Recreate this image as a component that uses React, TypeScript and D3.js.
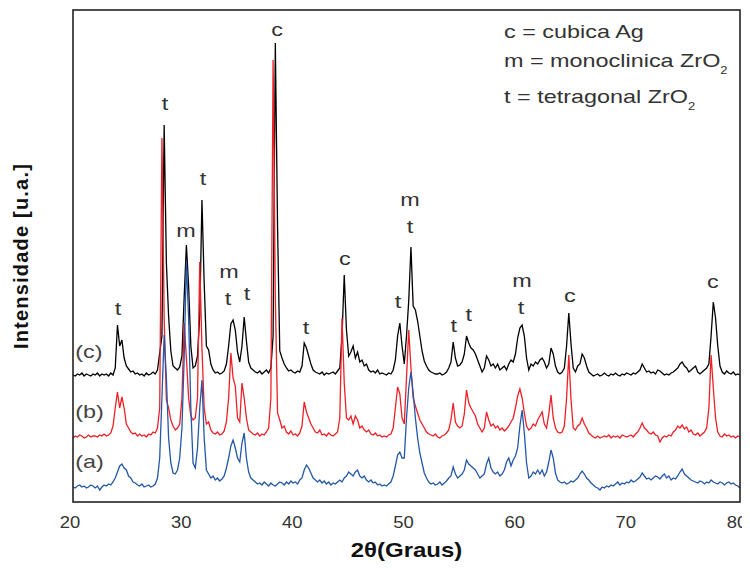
import React from "react";
import * as d3 from "d3";

// 2θ sampling grid (degrees)
const thetaStart = 20;
const thetaStep = 0.2;

// (a) – blue, intensity above its own baseline (u.a.)
const intensityA = [
  1, 0, 2, 3, 1, 2, 0, 1, 3, 2,
  0, 2, -2, 1, 3, 2, 4, 3, 6, 10,
  16, 22, 24, 20, 18, 12, 10, 6, 5, 3,
  2, 4, 1, 2, 3, 1, 2, 4, 10, 30,
  90, 153, 110, 50, 25, 15, 14, 18, 30, 60,
  130, 226, 170, 80, 25, 20, 40, 80, 108, 50,
  18, 14, 10, 12, 8, 10, 7, 9, 12, 20,
  30, 42, 48, 40, 30, 26, 45, 55, 30, 16,
  10, 8, 6, 4, 5, 3, 6, 4, 2, 5,
  3, 2, 4, 6, 5, 3, 6, 4, 7, 5,
  6, 4, 8, 10, 18, 23, 20, 15, 10, 8,
  6, 8, 5, 7, 4, 6, 3, 5, 4, 6,
  8, 6, 10, 12, 16, 14, 12, 16, 18, 12,
  10, 12, 8, 6, 8, 5, 6, 3, 4, 2,
  3, 2, 4, 6, 12, 22, 33, 36, 30, 30,
  70, 100, 116, 95, 70, 50, 35, 25, 15, 10,
  6, 4, 5, 3, 4, 6, 3, 5, 7, 10,
  12, 21, 14, 10, 12, 14, 18, 28, 24, 22,
  20, 18, 14, 10, 12, 14, 24, 30, 20, 16,
  14, 16, 12, 14, 18, 26, 30, 22, 28, 32,
  40, 62, 78, 55, 25, 10, 12, 16, 14, 18,
  14, 18, 12, 16, 26, 38, 30, 15, 8, 6,
  5, 6, 4, 5, 7, 6, 8, 10, 14, 17,
  14, 10, 8, 5, 3, 1, 0, -2, 1, 0,
  2, 1, 3, 2, 4, 6, 3, 5, 4, 6,
  5, 8, 6, 7, 9, 11, 15, 12, 9, 10,
  8, 10, 12, 11, 9, 12, 14, 10, 12, 8,
  10, 9, 12, 16, 19, 14, 12, 10, 8, 7,
  6, 5, 7, 6, 4, 6, 5, 8, 6, 5,
  4, 6, 5, 3, 5, 6, 4, 5, 3, 2,
  0,
];

// (b) – red
const intensityB = [
  0, 2, 1, 3, 2, 0, 1, 3, 1, 2,
  2, 1, 3, 2, 4, 2, 3, 5, 12, 30,
  46, 30, 41, 30, 14, 10, 6, 4, 5, 2,
  4, 2, 3, 1, 4, 3, 6, 5, 10, 30,
  300, 120, 38, 30, 18, 12, 8, 10, 14, 40,
  115, 80, 40, 22, 18, 20, 40, 176, 90, 30,
  14, 16, 8, 5, 4, 6, 3, 4, 7, 16,
  40, 85, 60, 52, 20, 16, 55, 40, 20, 8,
  6, 4, 3, 5, 2, 4, 3, 6, 10, 40,
  378, 140, 25, 18, 10, 12, 6, 4, 7, 3,
  4, 2, 5, 12, 36, 26, 20, 14, 10, 6,
  5, 8, 3, 4, 2, 5, 3, 2, 4, 6,
  20, 120, 55, 20, 18, 22, 14, 22, 18, 10,
  12, 8, 6, 8, 4, 3, 5, 2, 3, 1,
  2, 1, 3, 4, 10, 30, 51, 44, 20, 14,
  60, 108, 70, 40, 32, 25, 18, 14, 10, 6,
  4, 3, 2, 4, 1, 0, 2, 3, 5, 8,
  18, 35, 16, 12, 10, 12, 24, 48, 35, 30,
  26, 22, 14, 10, 6, 10, 26, 18, 12, 14,
  10, 12, 8, 10, 7, 9, 12, 16, 20, 30,
  42, 49, 40, 25, 12, 8, 10, 14, 12, 18,
  22, 26, 14, 10, 24, 43, 20, 10, 6, 5,
  6, 12, 40, 83, 38, 10, 8, 12, 14, 20,
  14, 10, 5, 3, 1, 0, 2, 0, 1, 2,
  1, 3, 0, 2, 1, 2, 0, 3, 2, 1,
  2, 3, 1, 4, 6, 10, 15, 10, 8, 5,
  4, 6, 3, 2, -4, 0, 2, 1, 3, 2,
  6, 8, 12, 10, 13, 9, 11, 6, 8, 4,
  3, 5, 2, 4, 6, 10, 30, 83, 50, 20,
  6, 2, 1, 4, 2, 3, 1, 2, 0, 2,
  1,
];

// (c) – black
const intensityC = [
  1, 0, 2, 1, 3, 0, 2, 1, 0, 2,
  1, 3, 0, 2, 1, 2, 0, 3, 1, 8,
  51, 30, 36, 18, 10, 7, 4, 5, 2, 3,
  1, 2, 0, 3, 1, 2, 4, 2, 6, 23,
  40, 251, 113, 60, 25, 10, 8, 6, 9, 20,
  79, 131, 90, 30, 8, 10, 20, 60, 176, 93,
  30, 26, 12, 6, 3, 4, 2, 3, 5, 12,
  30, 52, 56, 46, 24, 14, 30, 59, 35, 14,
  8, 6, 4, 3, 5, 2, 4, 6, 3, 8,
  40, 333, 150, 25, 18, 12, 8, 5, 6, 4,
  3, 5, 4, 10, 33, 28, 20, 12, 6, 4,
  3, 2, 4, 1, 3, 2, 3, 4, 2, 5,
  8, 40, 101, 46, 20, 24, 30, 18, 24, 14,
  16, 10, 12, 6, 4, 5, 3, 6, 2, 3,
  2, 1, 3, 2, 6, 16, 40, 53, 30, 12,
  40, 75, 129, 70, 66, 55, 40, 25, 15, 10,
  6, 4, 3, 2, 2, 3, 1, 2, 4, 8,
  14, 34, 18, 10, 11, 14, 22, 40, 33, 28,
  26, 22, 16, 10, 4, 8, 20, 16, 10, 12,
  8, 12, 6, 8, 10, 6, 12, 16, 14, 22,
  38, 48, 51, 40, 18, 6, 12, 10, 14, 12,
  16, 18, 14, 8, 12, 28, 22, 10, 4, 2,
  4, 8, 30, 63, 32, 8, 4, 10, 12, 22,
  18, 10, 4, 2, 0, 1, 2, 0, 1, 3,
  1, 0, 2, 1, 3, 1, 0, 2, 1, 3,
  2, 1, 3, 2, 4, 6, 12, 8, 4, 5,
  3, 4, 2, 6, 5, 3, 1, 2, 1, 3,
  4, 6, 8, 12, 14, 10, 8, 4, 6, 8,
  10, 4, 2, 4, 6, 8, 12, 40, 74, 58,
  30, 10, 4, 2, 5, 3, 2, 4, 1, 2,
  1,
];

// vertical offsets of the stacked patterns (u.a.)
const seriesNames = ["(c)", "(b)", "(a)"];
const seriesOffsets = [126, 64, 14];
const seriesLabelLevels = [144, 84, 34];
const seriesColors = ["#000000", "#EE2026", "#2457A8"];

const xTicks = [20, 30, 40, 50, 60, 70, 80];

// peak annotations: 2θ, phase letter, level (u.a.)
const peakTheta = [24.05, 28.27, 30.16, 31.69, 34.03, 33.94, 35.65, 38.35, 40.95, 44.46, 49.23, 50.31, 50.31, 54.26, 55.61, 60.38, 60.29, 64.69, 77.55];
const peakLetter = ["t", "t", "m", "t", "m", "t", "t", "c", "t", "c", "t", "m", "t", "t", "t", "m", "t", "c", "c"];
const peakLevel = [187, 392, 265, 317, 224, 197, 202, 466, 168, 237, 194, 296, 269, 170, 181, 215, 188, 200, 214];

const legendText = ["c = cubica Ag", "m = monoclinica ZrO", "t = tetragonal ZrO"];
const legendSub = ["", "2", "2"];

const W = 750;
const H = 570;
const FONT = "'Liberation Sans', Arial, sans-serif";

export default function App() {
  const x = d3.scaleLinear().domain([20, 80]).range([73, 740]);
  const y = d3.scaleLinear().domain([0, 492]).range([502, 10]);

  const patterns = [intensityC, intensityB, intensityA];

  const makePath = (vals: number[], off: number) =>
    d3
      .line<number>()
      .x((_, i) => x(thetaStart + i * thetaStep))
      .y((v) => y(v + off))
      .curve(d3.curveLinear)(vals) || "";

  const legendBaselines = [38, 67, 103];

  return (
    <div style={{ margin: -8 }}>
      <svg width={W} height={H} style={{ display: "block", background: "#fff" }} fontFamily={FONT}>
        <rect x={0} y={0} width={W} height={H} fill="#fff" />
        {/* traces: black first, then red, blue on top */}
        {patterns.map((vals, k) => (
          <path
            key={k}
            d={makePath(vals, seriesOffsets[k])}
            fill="none"
            stroke={seriesColors[k]}
            strokeWidth={1.3}
            strokeLinejoin="miter"
          />
        ))}
        {/* frame */}
        <rect
          x={x(20)}
          y={y(492)}
          width={x(80) - x(20)}
          height={y(0) - y(492)}
          fill="none"
          stroke="#222"
          strokeWidth={1.6}
        />
        {/* peak labels */}
        {peakTheta.map((t, i) => (
          <text
            key={i}
            transform={`translate(${x(t)},${y(peakLevel[i])}) scale(1.3,1)`}
            textAnchor="middle"
            fontSize={18}
            fill="#333"
          >
            {peakLetter[i]}
          </text>
        ))}
        {/* series labels */}
        {seriesNames.map((s, i) => (
          <text
            key={s}
            transform={`translate(${x(20.2)},${y(seriesLabelLevels[i])}) scale(1.3,1)`}
            fontSize={18}
            fill="#444"
          >
            {s}
          </text>
        ))}
        {/* legend */}
        {legendText.map((s, i) => (
          <text
            key={s}
            transform={`translate(504,${legendBaselines[i]}) scale(1.3,1)`}
            fontSize={18}
            fill="#333"
          >
            {s}
            {legendSub[i] && (
              <tspan fontSize={10} dy={7}>
                {legendSub[i]}
              </tspan>
            )}
          </text>
        ))}
        {/* x tick labels */}
        {xTicks.map((t) => (
          <text
            key={t}
            transform={`translate(${x(t) - 3},528) scale(1.15,1)`}
            textAnchor="middle"
            fontSize={16}
            fill="#333"
          >
            {t}
          </text>
        ))}
        {/* x axis title */}
        <text
          transform={`translate(${(x(20) + x(80)) / 2},557) scale(1.2,1)`}
          textAnchor="middle"
          fontSize={20}
          fontWeight="bold"
          fill="#111"
        >
          2θ(Graus)
        </text>
        {/* y axis title */}
        <text
          transform={`translate(28,${(y(0) + y(492)) / 2}) rotate(-90)`}
          textAnchor="middle"
          fontSize={20}
          fontWeight="bold"
          letterSpacing={1.2}
          fill="#111"
        >
          Intensidade [u.a.]
        </text>
      </svg>
    </div>
  );
}
